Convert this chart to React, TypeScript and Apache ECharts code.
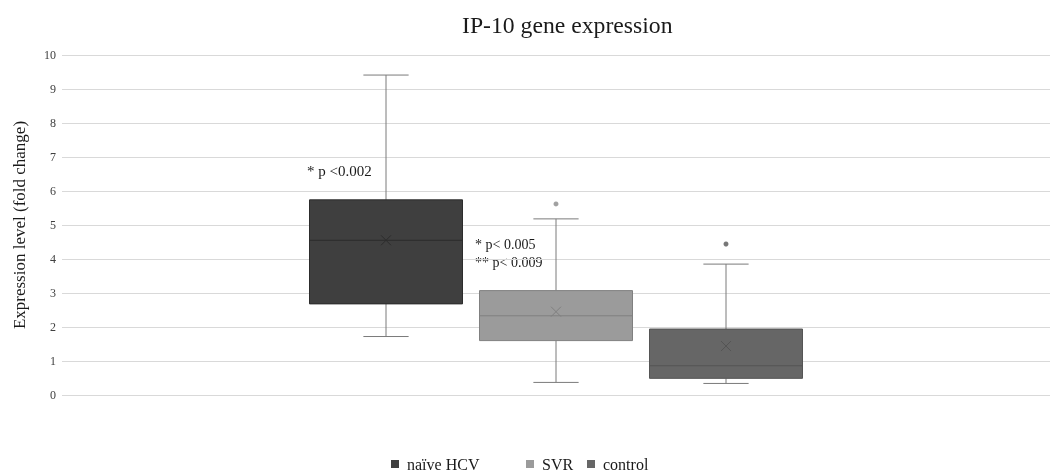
import React, { useEffect, useRef } from "react";
import * as echarts from "echarts";

const categories = ["naïve HCV", "SVR", "control"];
// [min, Q1, median, Q3, max]
const naiveBox = [1.72, 2.68, 4.55, 5.74, 9.41];
const svrBox = [0.37, 1.6, 2.33, 3.07, 5.18];
const controlBox = [0.34, 0.49, 0.86, 1.94, 3.85];
const boxes = [naiveBox, svrBox, controlBox];
const means = [4.55, 2.45, 1.44];
const svrOutliers = [5.62];
const controlOutliers = [4.44];
const yTicks = [0, 10, 1]; // min, max, interval
const annotations = ["* p <0.002", "* p< 0.005", "** p< 0.009"];

const fills = ["#3f3f3f", "#9b9b9b", "#666666"];
const strokes = ["#2c2c2c", "#808080", "#555555"];
const FONT = "Liberation Serif";

function makeRender(fill: string, stroke: string) {
  return (params: any, api: any) => {
    const idx = api.value(0);
    const band = api.size([1, 0])[0];
    const boxHalf = band * 0.45;
    const capHalf = band * 0.133;
    const pt = (v: number) => api.coord([idx, v]);
    const [cx, yMin] = pt(api.value(1));
    const yQ1 = pt(api.value(2))[1];
    const yMed = pt(api.value(3))[1];
    const yQ3 = pt(api.value(4))[1];
    const yMax = pt(api.value(5))[1];
    const yMean = pt(api.value(6))[1];
    const whisker = { stroke: "#7a7a7a", lineWidth: 1 };
    const m = 5;
    return {
      type: "group",
      children: [
        { type: "line", shape: { x1: cx, y1: yMax, x2: cx, y2: yQ3 }, style: whisker },
        { type: "line", shape: { x1: cx - capHalf, y1: yMax, x2: cx + capHalf, y2: yMax }, style: whisker },
        { type: "line", shape: { x1: cx, y1: yQ1, x2: cx, y2: yMin }, style: whisker },
        { type: "line", shape: { x1: cx - capHalf, y1: yMin, x2: cx + capHalf, y2: yMin }, style: whisker },
        {
          type: "rect",
          shape: { x: cx - boxHalf, y: yQ3, width: boxHalf * 2, height: yQ1 - yQ3 },
          style: { fill, stroke, lineWidth: 1 },
        },
        { type: "line", shape: { x1: cx - boxHalf, y1: yMed, x2: cx + boxHalf, y2: yMed }, style: { stroke, lineWidth: 1 } },
        { type: "line", shape: { x1: cx - m, y1: yMean - m, x2: cx + m, y2: yMean + m }, style: { stroke, lineWidth: 1 } },
        { type: "line", shape: { x1: cx - m, y1: yMean + m, x2: cx + m, y2: yMean - m }, style: { stroke, lineWidth: 1 } },
      ],
    };
  };
}

export default function App() {
  const ref = useRef<HTMLDivElement>(null);
  useEffect(() => {
    if (!ref.current) return;
    const chart = echarts.init(ref.current, undefined, { renderer: "svg" });
    const boxSeries = categories.map((name, i) => ({
      name,
      type: "custom",
      xAxisIndex: 1,
      yAxisIndex: 1,
      itemStyle: { color: fills[i] },
      encode: { x: 0, y: [1, 2, 3, 4, 5, 6] },
      data: [[i, ...boxes[i], means[i]]],
      renderItem: makeRender(fills[i], strokes[i]),
      z: 2,
    }));
    const legendPos = [386, 521, 582];
    chart.setOption({
      animation: false,
      title: {
        text: "IP-10 gene expression",
        left: 457,
        top: 8,
        textStyle: { fontFamily: FONT, fontSize: 23.7, fontWeight: "normal", color: "#1a1a1a" },
      },
      legend: categories.map((name, i) => ({
        data: [name],
        left: legendPos[i],
        top: 451,
        icon: "rect",
        itemWidth: 8,
        itemHeight: 8,
        selectedMode: false,
        textStyle: { fontFamily: FONT, fontSize: 16, color: "#1a1a1a", padding: [0, 0, 0, 3] },
      })),
      grid: [
        { left: 62, right: 4, top: 55, bottom: 76 },
        { left: 301, width: 510, top: 55, bottom: 76 },
      ],
      xAxis: [
        { type: "category", gridIndex: 0, data: [""], show: false },
        { type: "category", gridIndex: 1, data: categories, show: false },
      ],
      yAxis: [
        {
          type: "value",
          gridIndex: 0,
          min: yTicks[0],
          max: yTicks[1],
          interval: yTicks[2],
          name: "Expression level (fold change)",
          nameLocation: "middle",
          nameGap: 34,
          nameTextStyle: { fontFamily: FONT, fontSize: 17, color: "#1a1a1a" },
          axisLine: { show: false },
          axisTick: { show: false },
          axisLabel: { fontFamily: FONT, fontSize: 12, color: "#404040", margin: 6 },
          splitLine: { lineStyle: { color: "#d9d9d9", width: 1 } },
        },
        {
          type: "value",
          gridIndex: 1,
          min: yTicks[0],
          max: yTicks[1],
          interval: yTicks[2],
          show: false,
          splitLine: { show: false },
        },
      ],
      graphic: [
        { type: "text", left: 307, top: 163, style: { text: annotations[0], font: `15px "${FONT}"`, fill: "#1a1a1a" } },
        { type: "text", left: 475, top: 237, style: { text: annotations[1], font: `14px "${FONT}"`, fill: "#1a1a1a" } },
        { type: "text", left: 475, top: 255, style: { text: annotations[2], font: `14px "${FONT}"`, fill: "#1a1a1a" } },
      ],
      series: [
        ...boxSeries,
        {
          name: "SVR outliers",
          type: "scatter",
          xAxisIndex: 1,
          yAxisIndex: 1,
          symbolSize: 5,
          itemStyle: { color: "#8a8a8a" },
          data: svrOutliers.map((v) => [1, v]),
          z: 3,
        },
        {
          name: "control outliers",
          type: "scatter",
          xAxisIndex: 1,
          yAxisIndex: 1,
          symbolSize: 5,
          itemStyle: { color: "#555555" },
          data: controlOutliers.map((v) => [2, v]),
          z: 3,
        },
      ],
    });
    return () => chart.dispose();
  }, []);
  return <div ref={ref} style={{ position: "fixed", left: 0, top: 0, width: 1054, height: 471 }} />;
}
